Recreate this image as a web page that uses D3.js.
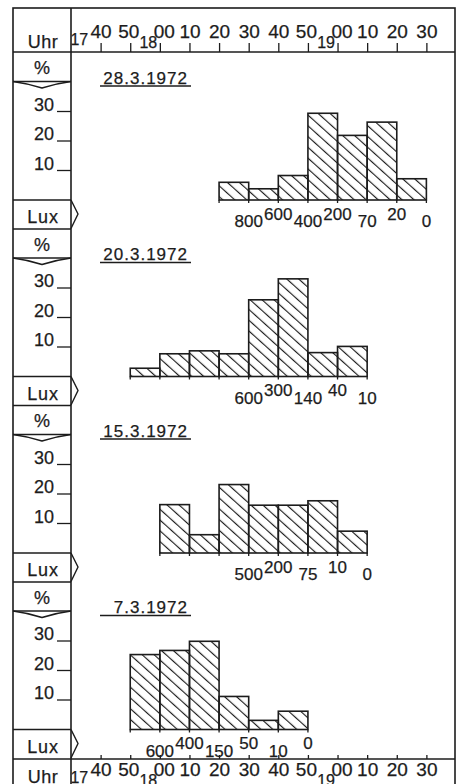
<!DOCTYPE html>
<html>
<head>
<meta charset="utf-8">
<script src="https://cdn.jsdelivr.net/npm/d3@7"></script>
<style>
body { margin: 0; background: #fff; }
svg text { font-family: "Liberation Sans", Arial, sans-serif; fill: #1c1c1c; stroke: #1c1c1c; stroke-width: 0.25px; }
</style>
</head>
<body>
<div id="chart"></div>
<script>
width = 458
height = 784

// time axis, minutes after 17:30
tickMinutes = [10, 20, 30, 40, 50, 60, 70, 80, 90, 100, 110, 120]
tickLabels = ["40", "50", "00", "10", "20", "30", "40", "50", "00", "10", "20", "30"]
hourLabels = ["17", "18", "19"]
percentTicks = [10, 20, 30]

dates = ["28.3.1972", "20.3.1972", "15.3.1972", "7.3.1972"]
startMinutes = [50, 20, 30, 20]

share28 = [6.0, 3.8, 8.3, 29.4, 21.9, 26.4, 7.2]
share20 = [2.8, 7.7, 8.7, 7.7, 26.0, 33.1, 8.1, 10.2]
share15 = [16.4, 6.2, 23.2, 16.2, 16.2, 17.7, 7.4]
share07 = [25.4, 26.8, 29.9, 11.2, 3.1, 6.2]

lux28 = ["800", "600", "400", "200", "70", "20", "0"]
lux20 = ["600", "300", "140", "40", "10"]
lux15 = ["500", "200", "75", "10", "0"]
lux07 = ["600", "400", "150", "50", "10", "0"]

luxMin28 = [60, 70, 80, 90, 100, 110, 120]
luxMin20 = [60, 70, 80, 90, 100]
luxMin15 = [60, 70, 80, 90, 100]
luxMin07 = [30, 40, 50, 60, 70, 80]

panels = [
  {date: dates[0], start: startMinutes[0], values: share28, lux: lux28, luxMin: luxMin28},
  {date: dates[1], start: startMinutes[1], values: share20, lux: lux20, luxMin: luxMin20},
  {date: dates[2], start: startMinutes[2], values: share15, lux: lux15, luxMin: luxMin15},
  {date: dates[3], start: startMinutes[3], values: share07, lux: lux07, luxMin: luxMin07}
]

const ink = "#1c1c1c"
const colL = 13, colR = 71, frameR = 455

const x = d3.scaleLinear().domain([0, 130]).range([colR, 456])
const baseY = d3.scaleLinear().domain([0, 1]).range([200, 376.5])  // panel index -> 0 % line

const svg = d3.select("#chart").append("svg")
  .attr("width", width)
  .attr("height", height)

const defs = svg.append("defs")
defs.append("pattern")
  .attr("id", "hatch")
  .attr("patternUnits", "userSpaceOnUse")
  .attr("width", 8)
  .attr("height", 8)
  .attr("patternTransform", "rotate(-48)")
  .append("line")
  .attr("x1", 0).attr("y1", 0)
  .attr("x2", 0).attr("y2", 8)
  .attr("stroke", ink)
  .attr("stroke-width", 2.3)

// frame
svg.append("rect")
  .attr("x", colL).attr("y", 8)
  .attr("width", frameR - colL).attr("height", 800)
  .attr("fill", "none").attr("stroke", ink).attr("stroke-width", 1.6)

svg.append("line")
  .attr("x1", colR).attr("x2", colR).attr("y1", 8).attr("y2", 800)
  .attr("stroke", ink).attr("stroke-width", 1.6)

for (let yy of [52, 759]) {
  svg.append("line")
    .attr("x1", colL).attr("x2", frameR).attr("y1", yy).attr("y2", yy)
    .attr("stroke", ink).attr("stroke-width", 1.6)
}

// top time axis
const topAxis = svg.append("g")
  .attr("transform", "translate(0,52)")
  .call(d3.axisTop(x).tickValues(tickMinutes).tickSize(9).tickPadding(5)
    .tickFormat((d, i) => tickLabels[i]))
topAxis.select(".domain").remove()

// bottom time axis, ticks pointing up into the chart
const bottomAxis = svg.append("g")
  .attr("transform", "translate(0,759)")
  .call(d3.axisBottom(x).tickValues(tickMinutes).tickSize(-4).tickPadding(3)
    .tickFormat((d, i) => tickLabels[i]))
bottomAxis.select(".domain").remove()

for (let ax of [topAxis, bottomAxis]) {
  ax.selectAll(".tick line").attr("stroke", ink).attr("stroke-width", 1.3)
  ax.selectAll(".tick text")
    .attr("font-size", 19)
    .attr("font-family", null)
    .attr("fill", ink)
    .attr("dx", (d, i) => tickLabels[i] == "00" ? 4 : (tickLabels[i] == "50" ? -2 : 0))
}

// hour labels: 17 at the left edge, 18 and 19 squeezed between 50 and 00
function hourX(h, i) {
  if (i == 0) return x(2.8)
  return x((+h - 17) * 60 - 30) - 11.5
}
svg.selectAll(".hourTop")
  .data(hourLabels)
  .join("text")
  .attr("class", "hourTop")
  .attr("x", hourX)
  .attr("y", (d, i) => i == 0 ? 45 : 47.5)
  .attr("text-anchor", "middle")
  .attr("font-size", 16)
  .text(d => d)

svg.selectAll(".hourBottom")
  .data(hourLabels)
  .join("text")
  .attr("class", "hourBottom")
  .attr("x", hourX)
  .attr("y", (d, i) => i == 0 ? 783 : 786)
  .attr("text-anchor", "middle")
  .attr("font-size", 16)
  .text(d => d)

for (let yy of [48, 783]) {
  svg.append("text")
    .attr("x", 43).attr("y", yy)
    .attr("text-anchor", "middle")
    .attr("font-size", 18)
    .attr("letter-spacing", 0.5)
    .text("Uhr")
}

// panels
panels.forEach(function(p, i) {

  let b = baseY(i)
  let top = b - 147.5
  let y = d3.scaleLinear().domain([0, 30]).range([b, b - 88.5])

  let g = svg.append("g").attr("class", "panel")

  // left column
  if (i > 0) {
    g.append("line")
      .attr("x1", colL).attr("x2", colR).attr("y1", top).attr("y2", top)
      .attr("stroke", ink).attr("stroke-width", 1.6)
  }
  g.append("line")
    .attr("x1", colL).attr("x2", colR).attr("y1", top + 29).attr("y2", top + 29)
    .attr("stroke", ink).attr("stroke-width", 1.5)
  g.append("path")
    .attr("d", `M${colL},${top + 29} Q28,${top + 31} 42,${top + 35.5} Q56,${top + 31} ${colR},${top + 29}`)
    .attr("fill", "none").attr("stroke", ink).attr("stroke-width", 1.4)
  g.append("text")
    .attr("x", 42).attr("y", top + 21.5)
    .attr("text-anchor", "middle")
    .attr("font-size", 18)
    .text("%")

  g.selectAll(".pTick")
    .data(percentTicks)
    .join("line")
    .attr("class", "pTick")
    .attr("x1", 57).attr("x2", colR)
    .attr("y1", d => y(d)).attr("y2", d => y(d))
    .attr("stroke", ink).attr("stroke-width", 1.3)
  g.selectAll(".pLabel")
    .data(percentTicks)
    .join("text")
    .attr("class", "pLabel")
    .attr("x", 54).attr("y", d => y(d) - 1)
    .attr("text-anchor", "end")
    .attr("font-size", 18)
    .text(d => d)

  g.append("line")
    .attr("x1", colL).attr("x2", colR).attr("y1", b).attr("y2", b)
    .attr("stroke", ink).attr("stroke-width", 1.5)
  g.append("text")
    .attr("x", 43).attr("y", b + 23)
    .attr("text-anchor", "middle")
    .attr("font-size", 18)
    .attr("letter-spacing", 0.8)
    .text("Lux")
  g.append("path")
    .attr("d", `M${colR},${b} L78,${b + 14} L${colR},${b + 28.5}`)
    .attr("fill", "none").attr("stroke", ink).attr("stroke-width", 1.4)

  // date
  g.append("text")
    .attr("x", 188).attr("y", top + 31)
    .attr("text-anchor", "end")
    .attr("font-size", 17)
    .attr("letter-spacing", 1)
    .text(p.date)
  g.append("line")
    .attr("x1", 100).attr("x2", 191).attr("y1", top + 33.5).attr("y2", top + 33.5)
    .attr("stroke", ink).attr("stroke-width", 1.4)

  // bars
  g.selectAll(".bar")
    .data(p.values)
    .join("rect")
    .attr("class", "bar")
    .attr("x", (d, j) => x(p.start + j * 10))
    .attr("width", x(10) - x(0))
    .attr("y", d => y(d))
    .attr("height", d => b - y(d))
    .attr("fill", "url(#hatch)")
    .attr("stroke", ink)
    .attr("stroke-width", 1.6)

  g.selectAll(".edge")
    .data(d3.range(p.values.length + 1))
    .join("line")
    .attr("class", "edge")
    .attr("x1", j => x(p.start + j * 10)).attr("x2", j => x(p.start + j * 10))
    .attr("y1", b).attr("y2", b + 3)
    .attr("stroke", ink).attr("stroke-width", 1.3)

  // lux values at the class limits, alternating low / high
  g.selectAll(".lux")
    .data(p.lux)
    .join("text")
    .attr("class", "lux")
    .attr("x", (d, k) => x(p.luxMin[k]))
    .attr("y", (d, k) => b + (k % 2 == 0 ? 27 : 19.5))
    .attr("text-anchor", "middle")
    .attr("font-size", 17)
    .text(d => d)
})
</script>
</body>
</html>
